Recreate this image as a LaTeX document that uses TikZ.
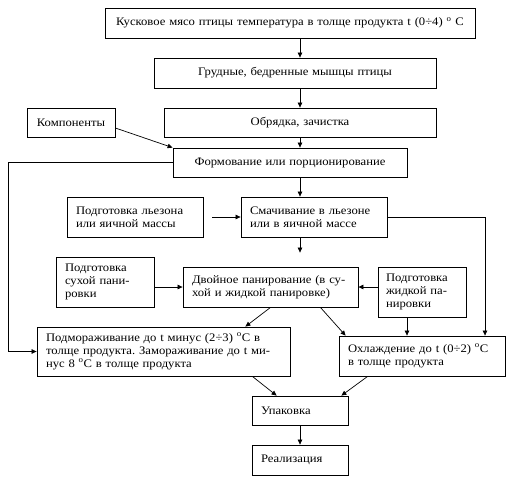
\documentclass[tikz,border=0pt]{standalone}
\usepackage{fontspec}
\setmainfont{Liberation Serif}[FakeStretch=1.1]
\usetikzlibrary{arrows.meta,calc}
\frenchspacing
\begin{document}
\begin{tikzpicture}[x=1pt,y=-1pt,
  box/.style={draw=black,line width=0.8pt,rectangle,inner xsep=9pt,inner ysep=0pt,
    font=\fontsize{11.5}{13}\selectfont},
  cbox/.style={box,align=center},
  lbox/.style={box,align=left},
  conn/.style={line width=0.7pt,-{Triangle[length=5pt,width=4.5pt]}}]
\useasboundingbox (0,0) rectangle (532,501);
\coordinate (axis) at (300,0);
\coordinate (lx) at (8,0);
\coordinate (rx) at (485,0);
\coordinate (jx) at (407,0);
\node[cbox,text width=352pt,minimum height=30pt] (top) at (290,23) {Кусковое мясо птицы температура в толще продукта t (0÷4) \textsuperscript{o} C};
\node[cbox,text width=264pt,minimum height=30pt] (gr) at (295,73) {Грудные, бедренные мышцы птицы};
\node[cbox,text width=254pt,minimum height=29pt] (obr) at (300,122.5) {Обрядка, зачистка};
\node[cbox,text width=70pt,minimum height=29pt] (komp) at (71,122.5) {Компоненты};
\node[cbox,text width=216pt,minimum height=29pt] (form) at (290,162.5) {Формование или порционирование};
\node[lbox,text width=118pt,minimum height=40pt] (lez) at (135,217) {Подготовка льезона\\или яичной массы};
\node[lbox,text width=128pt,minimum height=40pt] (smach) at (314,217) {Смачивание в льезоне\\или в яичной массе};
\node[lbox,text width=80pt,minimum height=50pt] (dry) at (105,282) {Подготовка\\сухой пани-\\ровки};
\node[lbox,text width=157pt,minimum height=40pt] (dvoy) at (270.5,287) {Двойное панирование (в су-\\хой и жидкой панировке)};
\node[lbox,inner xsep=8pt,text width=72pt,minimum height=50pt] (liq) at (422,292) {Подготовка\\жидкой па-\\нировки};
\node[lbox,text width=235pt,minimum height=49pt] (podm) at (163.5,351.5) {Подмораживание до t минус (2÷3) \textsuperscript{o}C в\\толще продукта. Замораживание до t ми-\\нус 8 \textsuperscript{o}C в толще продукта};
\node[lbox,text width=148pt,minimum height=40pt] (ohl) at (422,356) {Охлаждение до t (0÷2) \textsuperscript{o}C\\в толще продукта};
\node[lbox,text width=78pt,minimum height=29pt] (upak) at (300,410.5) {Упаковка};
\node[lbox,text width=78pt,minimum height=30pt] (real) at (300,460) {Реализация};
\draw[conn] (top.south -| axis) -- (gr.north -| axis);
\draw[conn] (gr.south -| axis) -- (obr.north -| axis);
\draw[conn] (obr.south -| axis) -- (form.north -| axis);
\draw[conn] ($(komp.east)+(0,5.5)$) -- (form.north west);
\draw[conn] (form.west) -- (form.west -| lx) |- (podm.west);
\draw[conn] (form.south -| axis) -- (smach.north -| axis);
\draw[conn,shorten <=9pt] (lez.east) -- (smach.west);
\draw[conn,shorten >=14pt] (smach.south -| axis) -- (dvoy.north -| axis);
\draw[conn] (smach.east) -| (ohl.north -| rx);
\draw[conn] (dry.east |- dvoy.west) -- (dvoy.west);
\draw[conn] (liq.west |- dvoy.east) -- (dvoy.east);
\draw[conn] (liq.south -| jx) -- (ohl.north -| jx);
\draw[conn] (dvoy.south) -- ($(podm.north east)+(-45,0)$);
\draw[conn] ($(dvoy.south east)+(-38,0)$) -- ($(ohl.north west)+(7,0)$);
\draw[conn] ($(podm.south east)+(-38,0)$) -- ($(upak.north west)+(25,0)$);
\draw[conn] ($(ohl.south west)+(29,0)$) -- ($(upak.north east)+(-7,0)$);
\draw[conn] (upak.south) -- (real.north);
\end{tikzpicture}
\end{document}
